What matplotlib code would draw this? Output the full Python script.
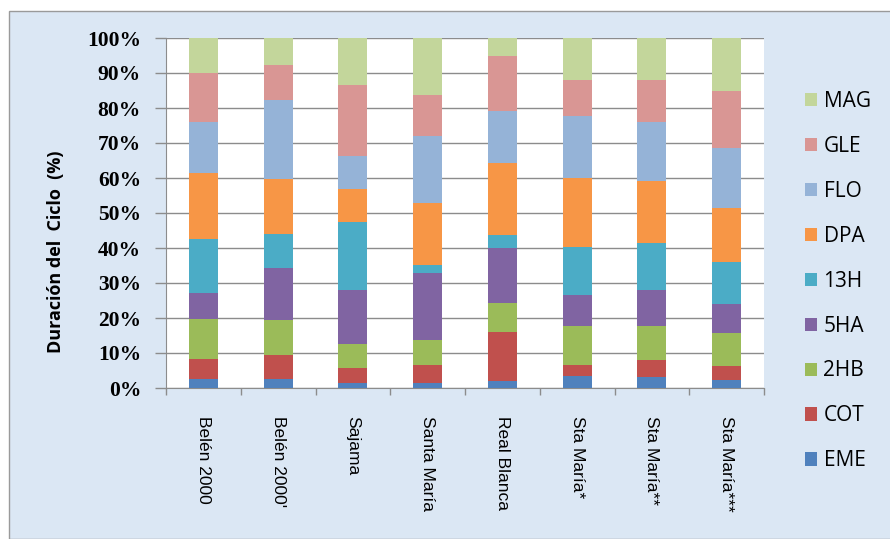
import numpy as np
import matplotlib
matplotlib.use('Agg')
import matplotlib.pyplot as plt
from matplotlib.patches import Rectangle, Patch

# Sites (x axis)
sites = ['Belén 2000', "Belén 2000'", 'Sajama', 'Santa María', 'Real Blanca',
         'Sta María*', 'Sta María**', 'Sta María***']

# Phenological stages, bottom to top
stages = ['EME', 'COT', '2HB', '5HA', '13H', 'DPA', 'FLO', 'GLE', 'MAG']

# Share of cycle duration (%) for each stage, one value per site
eme = [2.7, 2.7, 1.4, 1.4, 2.0, 3.3, 3.1, 2.4]
cot = [5.5, 6.6, 4.3, 5.3, 13.9, 3.2, 4.8, 3.8]
hb2 = [11.6, 10.1, 6.8, 7.1, 8.4, 11.1, 9.7, 9.6]
ha5 = [7.4, 14.8, 15.6, 19.1, 15.8, 8.9, 10.5, 8.1]
h13 = [15.5, 9.7, 19.2, 2.2, 3.6, 13.9, 13.4, 12.0]
dpa = [18.7, 15.7, 9.5, 17.9, 20.5, 19.6, 17.6, 15.4]
flo = [14.7, 22.6, 9.5, 18.9, 14.8, 17.8, 17.0, 17.2]
gle = [13.9, 10.0, 20.3, 11.9, 15.9, 10.3, 12.0, 16.5]
mag = [10.0, 7.8, 13.4, 16.2, 5.1, 11.9, 11.9, 15.0]

colors = ['#4f81bd', '#c0504d', '#9bbb59', '#8064a2', '#4bacc6',
          '#f79646', '#95b3d7', '#d99694', '#c3d69b']

series = [eme, cot, hb2, ha5, h13, dpa, flo, gle, mag]

W, H = 890, 539
fig = plt.figure(figsize=(W / 100, H / 100), dpi=100, facecolor='white')

# light blue chart area with a grey frame
fig.patches.append(Rectangle((9 / W, 0), 1.0, 1 - 11 / H, transform=fig.transFigure,
                             facecolor='#dbe7f4', edgecolor='#9a9a9a', linewidth=1.0,
                             zorder=-5))

ax = fig.add_axes([166 / W, 1 - 388 / H, 598 / W, 350 / H])
ax.set_zorder(2)
ax.set_facecolor('white')

x = np.arange(len(sites))
bottom = np.zeros(len(sites))
totals = np.sum(series, axis=0)
for vals, col, name in zip(series, colors, stages):
    vals = np.array(vals) / totals * 100  # normalise to 100%
    ax.bar(x, vals, bottom=bottom, width=0.39, color=col, label=name, zorder=3)
    bottom += vals

ax.set_xlim(-0.5, len(sites) - 0.5)
ax.set_ylim(0, 100)
ax.set_yticks(np.arange(0, 101, 10))
ax.set_yticklabels([f'{v}%' for v in range(0, 101, 10)],
                   family='Liberation Serif', fontweight='bold', fontsize=15.5)
ax.yaxis.grid(True, color='#8c8c8c', linewidth=1.0, zorder=0)
ax.set_axisbelow(True)
ax.tick_params(axis='y', length=8, width=1.0, color='#8c8c8c', pad=10)

ax.set_xticks(x)
ax.set_xticklabels(sites, rotation=270, family='Liberation Sans', fontsize=12.5,
                   va='top', ha='center')
ax.tick_params(axis='x', length=0, pad=20)
# tick marks between the categories
ax.set_xticks(np.arange(-0.5, len(sites), 1), minor=True)
ax.tick_params(axis='x', which='minor', length=5, width=1.0, color='#8c8c8c')

for s in ['top', 'right']:
    ax.spines[s].set_visible(False)
for s in ['left', 'bottom']:
    ax.spines[s].set_color('#8c8c8c')

fig.text(56 / W, 1 - 252 / H, 'Duración del  Ciclo  (%)', rotation=90,
         family='Open Sans', fontweight='bold', fontsize=13,
         ha='center', va='center')

handles = [Patch(facecolor=c, edgecolor='none') for c in colors][::-1]
fig.legend(handles, stages[::-1], loc='upper left',
           bbox_to_anchor=(786 / W, 1 - 72 / H), frameon=False,
           prop={'family': 'Open Sans', 'size': 15},
           handlelength=0.6, handleheight=0.6, handletextpad=0.3,
           labelspacing=1.15)

fig.savefig('out.png', dpi=100, facecolor=fig.get_facecolor())
